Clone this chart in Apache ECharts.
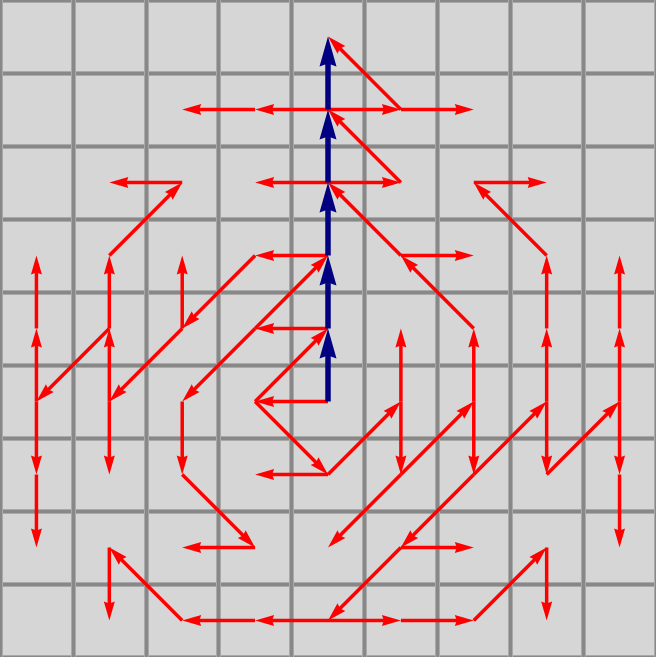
<!DOCTYPE html>
<html>
<head>
<meta charset="utf-8">
<script src="https://cdn.jsdelivr.net/npm/echarts@6/dist/echarts.min.js"></script>
<style>
  html, body { margin: 0; padding: 0; background: #d6d6d6; }
  #chart { width: 656px; height: 657px; }
</style>
</head>
<body>
<div id="chart"></div>
<script>
// Grid size (cells per side)
const gridCells = 9;

// Blue path: [column, row] cells, row 0 at top
const bluePath = [[4,5],[4,4],[4,3],[4,2],[4,1],[4,0]];

// Red arrows: [fromCol, fromRow, toCol, toRow]
const redEdges = [
  [4,1,3,1],[3,1,2,1],[4,1,5,1],[5,1,6,1],[5,1,4,0],
  [5,2,4,1],[4,2,5,2],[4,2,3,2],[5,3,4,2],[5,3,6,3],
  [6,4,5,3],[6,5,6,4],[6,5,6,6],[5,6,6,5],[5,6,4,7],
  [5,5,5,6],[5,5,5,4],[4,6,5,5],[4,6,3,6],[3,5,4,6],
  [4,5,3,5],[3,5,4,4],[4,4,3,4],[3,4,4,3],[3,4,2,5],
  [2,5,2,6],[2,6,3,7],[3,7,2,7],[4,3,3,3],[3,3,2,4],
  [2,4,2,3],[2,4,1,5],[1,5,1,4],[1,5,1,6],[1,4,1,3],
  [1,4,0,5],[0,5,0,4],[0,4,0,3],[0,5,0,6],[0,6,0,7],
  [1,3,2,2],[2,2,1,2],[6,6,5,7],[6,6,7,5],[5,7,4,8],
  [5,7,6,7],[4,8,3,8],[3,8,2,8],[2,8,1,7],[1,7,1,8],
  [4,8,5,8],[5,8,6,8],[6,8,7,7],[7,7,7,8],[7,5,7,4],
  [7,4,7,3],[7,3,6,2],[6,2,7,2],[7,5,7,6],[7,6,8,5],
  [8,5,8,4],[8,4,8,3],[8,5,8,6],[8,6,8,7]
];

const blueEdges = [];
for (let i = 0; i < bluePath.length - 1; i++) {
  blueEdges.push([bluePath[i][0], bluePath[i][1], bluePath[i+1][0], bluePath[i+1][1]]);
}

function makeRender(color, lineWidth, headLen, headHalf, notch) {
  return function (params, api) {
    const p1 = api.coord([api.value(0) + 0.5, api.value(1) + 0.5]);
    const p2 = api.coord([api.value(2) + 0.5, api.value(3) + 0.5]);
    const dx = p2[0] - p1[0], dy = p2[1] - p1[1];
    const len = Math.hypot(dx, dy);
    const ux = dx / len, uy = dy / len;
    const nx = -uy, ny = ux;
    const bx = p2[0] - ux * headLen, by = p2[1] - uy * headLen;
    const mx = p2[0] - ux * (headLen - notch), my = p2[1] - uy * (headLen - notch);
    const lineEnd = [p2[0] - ux * (headLen * 0.5), p2[1] - uy * (headLen * 0.5)];
    return {
      type: 'group',
      children: [
        {
          type: 'line',
          shape: { x1: p1[0], y1: p1[1], x2: lineEnd[0], y2: lineEnd[1] },
          style: { stroke: color, lineWidth: lineWidth, lineCap: 'butt' }
        },
        {
          type: 'polygon',
          shape: { points: [
            [p2[0], p2[1]],
            [bx + nx * headHalf, by + ny * headHalf],
            [mx, my],
            [bx - nx * headHalf, by - ny * headHalf]
          ] },
          style: { fill: color }
        }
      ]
    };
  };
}

const hiddenAxis = {
  type: 'value', min: 0, max: gridCells, interval: 1,
  axisLine: { show: false }, axisTick: { show: false }, axisLabel: { show: false }
};

const chart = echarts.init(document.getElementById('chart'), null, { renderer: 'canvas' });
chart.setOption({
  backgroundColor: '#d6d6d6',
  animation: false,
  grid: { left: 0, right: 0, top: 0, bottom: 0 },
  xAxis: [
    Object.assign({}, hiddenAxis, { position: 'bottom', splitLine: { show: true, lineStyle: { color: '#a9a9a9', width: 5 } } }),
    Object.assign({}, hiddenAxis, { position: 'top', splitLine: { show: true, lineStyle: { color: '#888888', width: 3 } } })
  ],
  yAxis: [
    Object.assign({}, hiddenAxis, { inverse: true, position: 'left', splitLine: { show: true, lineStyle: { color: '#a9a9a9', width: 5 } } }),
    Object.assign({}, hiddenAxis, { inverse: true, position: 'right', splitLine: { show: true, lineStyle: { color: '#888888', width: 3 } } })
  ],
  series: [
    {
      type: 'custom',
      xAxisIndex: 0, yAxisIndex: 0,
      renderItem: makeRender('#ff0000', 3.5, 19, 5.5, 2),
      encode: { x: [0, 2], y: [1, 3] },
      data: redEdges,
      clip: false,
      z: 2
    },
    {
      type: 'custom',
      xAxisIndex: 0, yAxisIndex: 0,
      renderItem: makeRender('#000080', 5.5, 30, 8.5, 3),
      encode: { x: [0, 2], y: [1, 3] },
      data: blueEdges,
      clip: false,
      z: 3
    }
  ]
});
</script>
</body>
</html>
